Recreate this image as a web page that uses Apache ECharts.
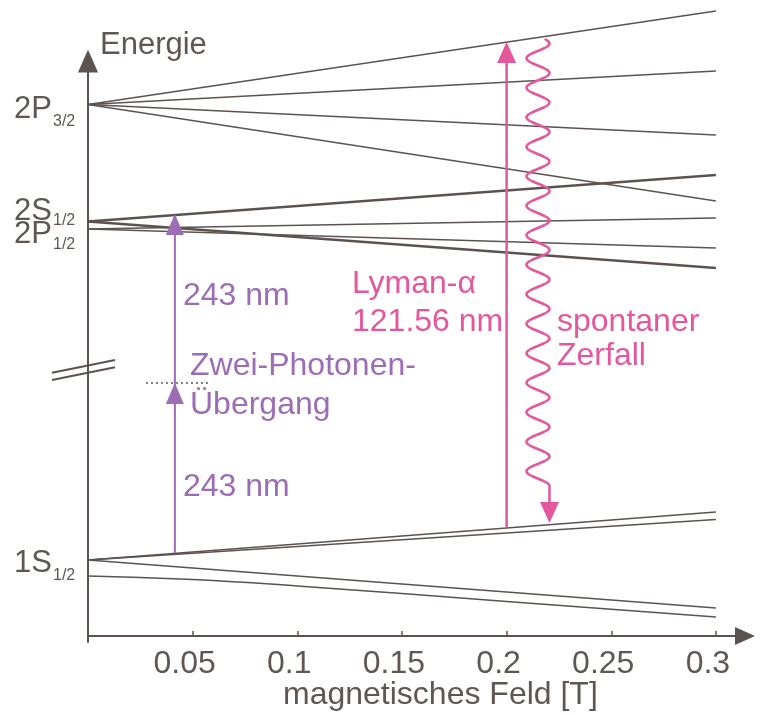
<!DOCTYPE html>
<html>
<head>
<meta charset="utf-8">
<script src="https://cdn.jsdelivr.net/npm/echarts@6/dist/echarts.min.js"></script>
<style>html,body{margin:0;padding:0;background:#fff}#c{width:760px;height:715px}</style>
</head>
<body>
<div id="c"></div>
<script>
// ---------- data ----------
const xTicks = [0.05, 0.1, 0.15, 0.2, 0.25, 0.3];
const fieldRange = [0, 0.3];                 // magnetic field range of the level lines [T]
// energies (arbitrary units)
const level2P32 = 531.5;
const ends2P32 = [625, 565, 501, 435];
const level2S12 = 414.5;
const ends2S12 = [461, 368];
const level2P12 = 407;
const ends2P12 = [418, 388];
const level1S12 = 76;
const ends1S12 = [124, 116.5, 28];
const curve1SField = [0, 0.05, 0.1, 0.2, 0.3];
const curve1SEnergy = [60, 56.5, 50, 34.5, 19];
// annotations
const twoPhotonArrow = [0.0415, 83, 422, 253];   // field, start, tip, intermediate tip
const virtualLevel = [[0.0277, 253], [0.0583, 253]];
const lymanArrow = [0.2, 109, 594];
const decayWave = [0.215, 597, 113];             // field, top, tip
const breakMarks = [[-0.0172, 263.3, 0.0129, 276], [-0.0172, 256, 0.0129, 268.7]];
const levelLabels = [
  {big: '2P', small: '3/2', level: level2P32, dyBig: 5, dySmall: 17},
  {big: '2S', small: '1/2', level: level2S12, dyBig: -10, dySmall: -0.5},
  {big: '2P', small: '1/2', level: level2P12, dyBig: 5, dySmall: 16},
  {big: '1S', small: '1/2', level: level1S12, dyBig: 3, dySmall: 15.5}
];

// ---------- style ----------
const GRAY = '#5b5350';
const TXT = '#5e5753';
const PURPLE = '#9c6db4';
const PINK = '#e5579d';
const FONT = "'Liberation Sans', Arial, Helvetica, sans-serif";

function levelSeries(start, ends, width) {
  return ends.map(e => ({
    type: 'line', data: [[fieldRange[0], start], [fieldRange[1], e]],
    symbol: 'none', clip: false, silent: true,
    lineStyle: {color: GRAY, width: width}
  }));
}

function arrowRender(color, lw, headW, headL) {
  return function (params, api) {
    const x = api.value(0);
    const p0 = api.coord([x, api.value(1)]);
    const p1 = api.coord([x, api.value(2)]);
    const children = [
      {type: 'line', shape: {x1: p0[0], y1: p0[1], x2: p1[0], y2: p1[1] + headL * 0.8}, style: {stroke: color, lineWidth: lw}},
      {type: 'polygon', shape: {points: [[p1[0], p1[1]], [p1[0] - headW / 2, p1[1] + headL], [p1[0] + headW / 2, p1[1] + headL]]}, style: {fill: color}}
    ];
    const m = api.value(3);
    if (m != null && !isNaN(m)) {
      const pm = api.coord([x, m]);
      children.push({type: 'polygon', shape: {points: [[pm[0], pm[1]], [pm[0] - headW / 2, pm[1] + headL], [pm[0] + headW / 2, pm[1] + headL]]}, style: {fill: color}});
    }
    return {type: 'group', children: children};
  };
}

function segmentRender(params, api) {
  const a = api.coord([api.value(0), api.value(1)]);
  const b = api.coord([api.value(2), api.value(3)]);
  return {type: 'line', shape: {x1: a[0], y1: a[1], x2: b[0], y2: b[1]}, style: {stroke: GRAY, lineWidth: 2}};
}

function waveRender(params, api) {
  const x = api.value(0);
  const pt = api.coord([x, api.value(1)]);
  const pb = api.coord([x, api.value(2)]);
  const cx = pt[0], topPy = pt[1], tipPy = pb[1];
  const A = 11.5, P = 29.5, headL = 21, headW = 19, straight = 16;
  const endPy = tipPy - headL - straight;
  const pts = [];
  for (let y = topPy; y <= endPy; y += 0.5) {
    pts.push([cx + A * Math.cos(2 * Math.PI * (y - endPy) / P), y]);
  }
  pts.push([cx + A, endPy]);
  pts.push([cx + A, tipPy - headL * 0.8]);
  return {type: 'group', children: [
    {type: 'polyline', shape: {points: pts}, style: {stroke: PINK, lineWidth: 2.5, fill: null}},
    {type: 'polygon', shape: {points: [[cx + A, tipPy], [cx + A - headW / 2, tipPy - headL], [cx + A + headW / 2, tipPy - headL]]}, style: {fill: PINK}}
  ]};
}

const series = []
  .concat(levelSeries(level2P32, ends2P32, 1.5))
  .concat(levelSeries(level2S12, ends2S12, 2.5))
  .concat(levelSeries(level2P12, ends2P12, 1.5))
  .concat(levelSeries(level1S12, ends1S12, 1.5));
series.push({
  type: 'line', data: curve1SField.map((f, i) => [f, curve1SEnergy[i]]),
  smooth: true, symbol: 'none', clip: false, silent: true,
  lineStyle: {color: GRAY, width: 1.5}
});
series.push({type: 'custom', data: breakMarks, renderItem: segmentRender, clip: false, silent: true, z: 6});
series.push({type: 'line', data: virtualLevel, symbol: 'none', clip: false, silent: true, lineStyle: {color: GRAY, width: 1.5, type: [2, 3]}});
series.push({type: 'custom', data: [twoPhotonArrow], renderItem: arrowRender(PURPLE, 2, 18, 21), clip: false, silent: true, z: 5});
series.push({type: 'custom', data: [lymanArrow], renderItem: arrowRender(PINK, 2.5, 19, 21), clip: false, silent: true, z: 5});
series.push({type: 'custom', data: [decayWave], renderItem: waveRender, clip: false, silent: true, z: 5});

const chart = echarts.init(document.getElementById('c'), null, {renderer: 'canvas'});
const option = {
  animation: false,
  backgroundColor: '#ffffff',
  grid: {left: 88, right: 15, top: 61, bottom: 73, containLabel: false},
  xAxis: {
    type: 'value', min: 0, max: 0.3139,
    axisLine: {onZero: true, lineStyle: {color: GRAY, width: 2}, symbol: ['none', 'triangle'], symbolSize: [18, 20]},
    axisTick: {show: true, inside: true, length: 5, customValues: xTicks, lineStyle: {color: GRAY, width: 1.5}},
    axisLabel: {customValues: xTicks, color: TXT, fontSize: 32, fontFamily: FONT, margin: 6, padding: [0, 16, 0, 0]},
    splitLine: {show: false}
  },
  yAxis: {
    type: 'value', min: -6, max: 575,
    axisLine: {show: true, lineStyle: {color: GRAY, width: 2}, symbol: ['none', 'triangle'], symbolSize: [20, 23]},
    axisTick: {show: false}, axisLabel: {show: false}, splitLine: {show: false}
  },
  series: series
};
chart.setOption(option);

function txt(s, x, y, color, size) {
  return {type: 'text', x: x, y: y, style: {text: s, fontSize: size, fontFamily: FONT, fill: color, align: 'left', verticalAlign: 'middle'}};
}
const g = [
  txt('Energie', 100, 45, TXT, 31),
  txt('magnetisches Feld [T]', 283, 695, TXT, 32),
  txt('243 nm', 183, 296, PURPLE, 32),
  txt('243 nm', 183, 487, PURPLE, 32),
  txt('Zwei-Photonen-', 190, 366, PURPLE, 32),
  txt('Übergang', 190, 405, PURPLE, 32),
  txt('Lyman-α', 352, 284, PINK, 32),
  txt('121.56 nm', 352, 322, PINK, 32),
  txt('spontaner', 557, 322, PINK, 32),
  txt('Zerfall', 557, 356, PINK, 32)
];
levelLabels.forEach(l => {
  const py = chart.convertToPixel({yAxisIndex: 0}, l.level);
  g.push({type: 'text', x: 52, y: py + l.dyBig, style: {text: l.big, fontSize: 31, fontFamily: FONT, fill: TXT, align: 'right', verticalAlign: 'middle'}});
  g.push({type: 'text', x: 53, y: py + l.dySmall, style: {text: l.small, fontSize: 16, fontFamily: FONT, fill: TXT, align: 'left', verticalAlign: 'middle'}});
});
chart.setOption({graphic: g});
</script>
</body>
</html>
